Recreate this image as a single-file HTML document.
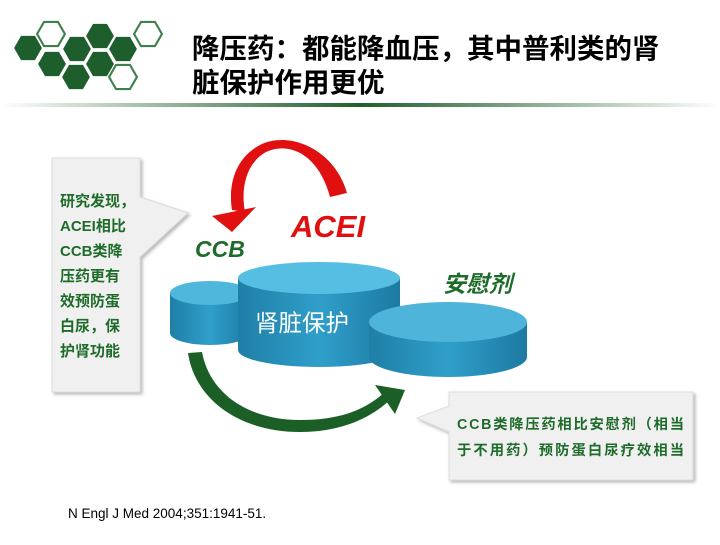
<!DOCTYPE html>
<html><head><meta charset="utf-8"><style>
body{margin:0;width:720px;height:540px;background:#fff;overflow:hidden;font-family:"Liberation Sans","Noto Sans CJK SC",sans-serif}
</style></head><body>
<svg width="720" height="540" viewBox="0 0 720 540" xmlns="http://www.w3.org/2000/svg" font-family="Liberation Sans, Noto Sans CJK SC, sans-serif">
<defs>
<symbol id="hx" viewBox="-14 -13 28 26" overflow="visible"><polygon points="-13,0 -6.5,-11.3 6.5,-11.3 13,0 6.5,11.3 -6.5,11.3"/></symbol>
<linearGradient id="rule" x1="0" x2="1"><stop offset="0" stop-color="#fff"/><stop offset="0.5" stop-color="#1f5f2c"/><stop offset="1" stop-color="#fff"/></linearGradient>
<linearGradient id="side" x1="0" x2="1"><stop offset="0" stop-color="#1f7fa6"/><stop offset="0.5" stop-color="#2f9fca"/><stop offset="1" stop-color="#1d7aa2"/></linearGradient>
<filter id="sh" x="-10%" y="-10%" width="130%" height="130%"><feDropShadow dx="2" dy="2" stdDeviation="1.5" flood-color="#888" flood-opacity="0.6"/></filter>
</defs>
<g fill="#1d5e2c">
<use href="#hx" x="13" y="34" width="30" height="28"/>
<use href="#hx" x="62" y="35" width="30" height="28"/>
<use href="#hx" x="85" y="22" width="30" height="28"/>
<use href="#hx" x="108" y="35" width="30" height="28"/>
<use href="#hx" x="37" y="50" width="30" height="28"/>
<use href="#hx" x="61" y="63" width="30" height="28"/>
<use href="#hx" x="85" y="50" width="30" height="28"/>
</g>
<g fill="#fff" stroke="#3f7f4c" stroke-width="2">
<use href="#hx" x="36" y="20" width="30" height="28"/>
<use href="#hx" x="133" y="20" width="30" height="28"/>
<use href="#hx" x="108" y="63" width="30" height="28"/>
</g>
<text x="192" y="58" font-size="27.5" font-weight="bold" fill="#000">降压药：都能降血压，其中普利类的肾</text>
<text x="192" y="92" font-size="27.5" font-weight="bold" fill="#000">脏保护作用更优</text>
<rect x="0" y="103" width="720" height="4" fill="url(#rule)"/>

<g filter="url(#sh)">
<path d="M52,158 H140 V197 L188,213 L140,257 V392 H52 Z" fill="#f0f0f0" stroke="#ddd"/>
</g>
<g font-size="15" font-weight="bold" fill="#1e6b2a">
<text x="60" y="206">研究发现，</text>
<text x="60" y="231">ACEI相比</text>
<text x="60" y="256">CCB类降</text>
<text x="60" y="281">压药更有</text>
<text x="60" y="306">效预防蛋</text>
<text x="60" y="331">白尿，保</text>
<text x="60" y="356">护肾功能</text>
</g>

<path d="M347,193 C335,150 290,130 260,145 C235,158 228,185 232,210 L245,212 C240,185 248,162 266,152 C292,140 320,158 330,197 Z" fill="#e01010"/>
<path d="M212,216 L256,207 L232,232 Z" fill="#e01010"/>
<text x="291" y="237" font-size="31" font-weight="bold" font-style="italic" fill="#e01010">ACEI</text>
<text x="195" y="257" font-size="23" font-weight="bold" font-style="italic" fill="#1e6b2a">CCB</text>
<text x="443" y="292" font-size="23" font-weight="bold" font-style="italic" fill="#1e6b2a">安慰剂</text>

<path d="M170,293 V333 A40,12 0 0 0 250,333 V293 Z" fill="url(#side)"/>
<ellipse cx="210" cy="293" rx="40" ry="12" fill="#4fb6dc"/>
<path d="M238,278 V350 A81,17 0 0 0 400,350 V278 Z" fill="url(#side)"/>
<ellipse cx="319" cy="278" rx="81" ry="16" fill="#56bde3"/>
<path d="M369,322 V357 A79,20 0 0 0 527,357 V322 Z" fill="url(#side)"/>
<ellipse cx="448" cy="322" rx="79" ry="20" fill="#4fb4da"/>
<text x="255" y="331" font-size="23.5" fill="#fff">肾脏保护</text>

<path d="M188,353 C195,400 240,432 300,432 C345,432 375,415 392,398 L385,392 C365,410 340,420 300,420 C250,420 210,395 202,352 Z" fill="#1b5e26"/>
<path d="M375,385 L405,390 L395,414 Z" fill="#1b5e26"/>

<g filter="url(#sh)">
<path d="M449,392 H693 V480 H449 V432 L417,418 L449,406 Z" fill="#f0f0f0" stroke="#ddd"/>
</g>
<g font-size="14.3" font-weight="bold" fill="#1e6b2a">
<text x="457" y="429" textLength="227" lengthAdjust="spacing">CCB类降压药相比安慰剂（相当</text>
<text x="457" y="455" textLength="227" lengthAdjust="spacing">于不用药）预防蛋白尿疗效相当</text>
</g>

<text x="68" y="518" font-size="13.5" fill="#000">N Engl J Med 2004;351:1941-51.</text>
</svg>
</body></html>
